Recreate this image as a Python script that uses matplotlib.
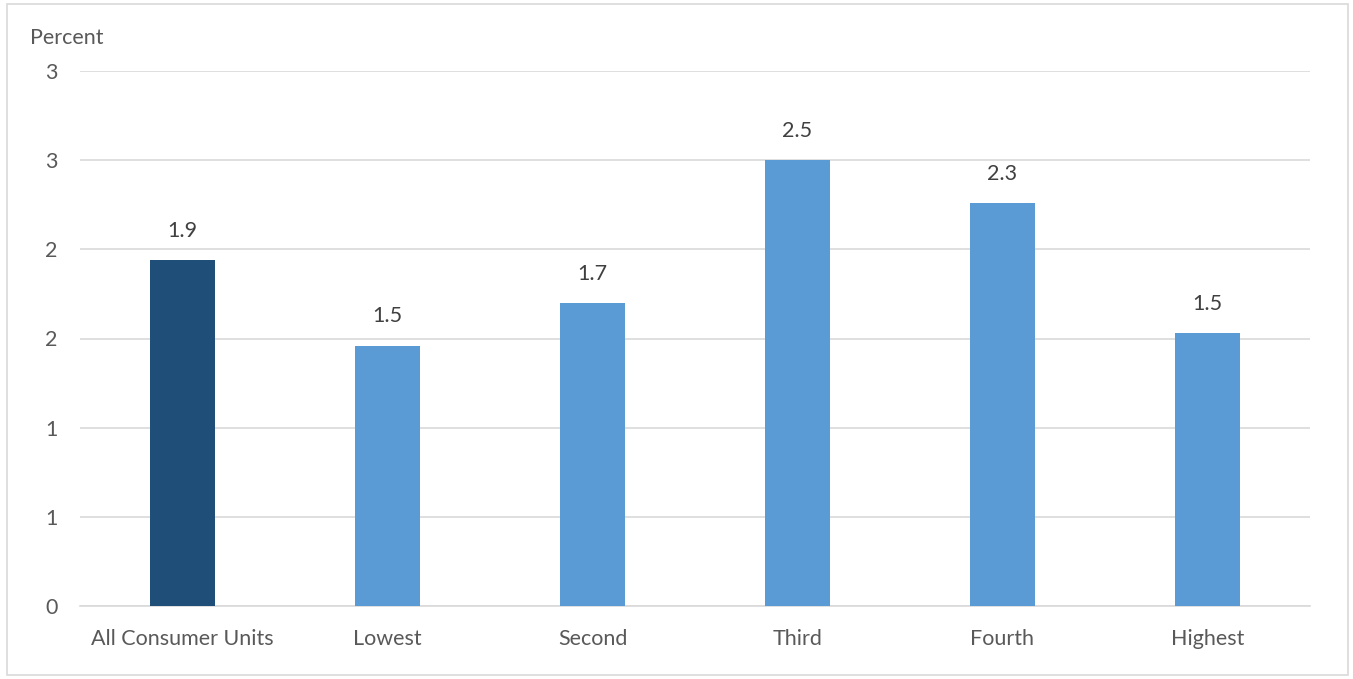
import matplotlib.pyplot as plt
from matplotlib.patches import Rectangle

categories = ['All Consumer Units', 'Lowest', 'Second', 'Third', 'Fourth', 'Highest']
values = [1.94, 1.46, 1.70, 2.50, 2.26, 1.53]
labels = ['1.9', '1.5', '1.7', '2.5', '2.3', '1.5']
colors = ['#1F4E79', '#5B9BD5', '#5B9BD5', '#5B9BD5', '#5B9BD5', '#5B9BD5']
yticks = [0, 0.5, 1, 1.5, 2, 2.5, 3]
ytick_labels = ['0', '1', '1', '2', '2', '3', '3']

plt.rcParams['font.family'] = ['Lato', 'DejaVu Sans']
text_color = '#595959'
fs = 15.5

fig = plt.figure(figsize=(13.53, 6.79), dpi=100)
ax = fig.add_axes([80 / 1353, 1 - 606 / 679, 1230 / 1353, 535 / 679])

x = range(len(categories))
bars = ax.bar(x, values, width=0.317, color=colors, zorder=3)
for rect, lab in zip(bars, labels):
    ax.annotate(lab, (rect.get_x() + rect.get_width() / 2, rect.get_height()),
                xytext=(0, 21), textcoords='offset points', ha='center', va='center',
                fontsize=fs, color='#404040')

ax.set_xlim(-0.5, len(categories) - 0.5)
ax.set_ylim(0, 3)
ax.set_yticks(yticks)
ax.set_yticklabels(ytick_labels)
ax.set_xticks(list(x))
ax.set_xticklabels(categories)
ax.tick_params(axis='both', length=0, labelsize=fs, labelcolor=text_color)
ax.tick_params(axis='y', pad=16)
ax.tick_params(axis='x', pad=16.5)
ax.grid(axis='y', color='#D9D9D9', linewidth=1.2, zorder=0)
for s in ['top', 'right', 'left']:
    ax.spines[s].set_visible(False)
ax.spines['bottom'].set_color('#D9D9D9')
ax.spines['bottom'].set_linewidth(1.2)

fig.text(30 / 1353, 1 - 38 / 679, 'Percent', fontsize=fs, color=text_color, va='center', ha='left')
fig.patches.append(Rectangle((7 / 1353, 4 / 679), 1341 / 1353, 671 / 679, transform=fig.transFigure,
                             fill=False, edgecolor='#D9D9D9', linewidth=1.2))

plt.savefig('out.png', dpi=100)
